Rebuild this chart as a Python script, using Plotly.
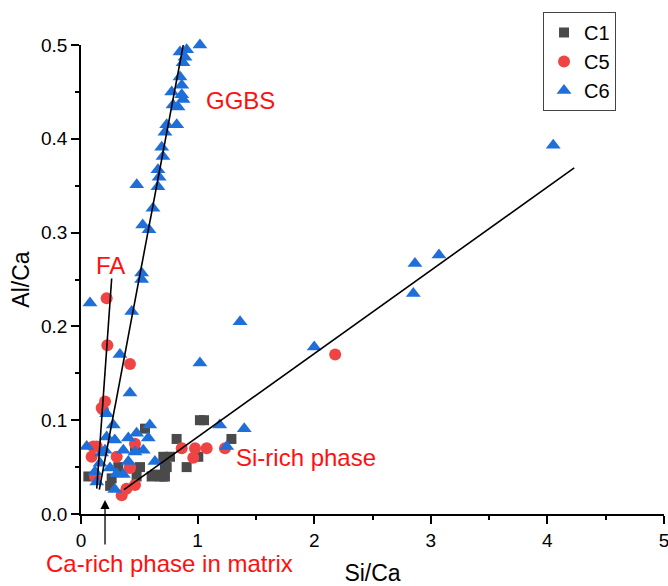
import plotly.graph_objects as go

# ---- data ----
c1_x = [0.063, 0.25, 0.263, 0.32, 0.463, 0.477, 0.506, 0.549, 0.606, 0.635, 0.677, 0.706,
        0.706, 0.72, 0.72, 0.72, 0.735, 0.763, 0.82, 0.906, 1.006, 1.02, 1.055, 1.29]
c1_y = [0.04, 0.03, 0.038, 0.05, 0.072, 0.04, 0.05, 0.091, 0.04, 0.042, 0.04, 0.04,
        0.061, 0.058, 0.05, 0.04, 0.05, 0.061, 0.08, 0.05, 0.061, 0.10, 0.10, 0.08]

c5_x = [0.091, 0.105, 0.135, 0.12, 0.177, 0.19, 0.206, 0.226, 0.22, 0.306, 0.349, 0.39,
        0.42, 0.42, 0.42, 0.463, 0.463, 0.864, 0.978, 1.078, 0.963, 1.235, 2.18]
c5_y = [0.061, 0.072, 0.072, 0.04, 0.113, 0.111, 0.12, 0.18, 0.23, 0.061, 0.02, 0.027,
        0.049, 0.05, 0.16, 0.031, 0.075, 0.07, 0.07, 0.07, 0.06, 0.07, 0.17]

c6_x = [1.02, 0.849, 0.906, 0.892, 0.875, 0.849, 0.864, 0.778, 0.864, 0.875, 0.789, 0.832,
        0.735, 0.821, 0.72, 0.692, 0.703, 0.66, 0.67, 0.66, 0.478, 0.617, 0.529, 0.583,
        0.52, 0.52, 0.077, 0.435, 0.334, 0.42,
        2.864, 3.07, 2.85, 1.364, 1.02, 2.0, 1.19, 1.40, 1.25, 4.05,
        0.049, 0.22, 0.277, 0.22, 0.29, 0.406, 0.477, 0.59, 0.577, 0.363, 0.463, 0.534,
        0.406, 0.634, 0.206, 0.163, 0.249, 0.135, 0.306, 0.363, 0.29, 0.177, 0.12]
c6_y = [0.50, 0.4925, 0.495, 0.487, 0.481, 0.466, 0.457, 0.450, 0.447, 0.442, 0.436, 0.434,
        0.415, 0.415, 0.407, 0.391, 0.381, 0.367, 0.359, 0.349, 0.351, 0.326, 0.308, 0.303,
        0.257, 0.25, 0.225, 0.216, 0.17, 0.129,
        0.267, 0.276, 0.235, 0.205, 0.161, 0.178, 0.095, 0.091, 0.072, 0.393,
        0.072, 0.107, 0.095, 0.082, 0.079, 0.081, 0.086, 0.095, 0.081, 0.068, 0.066, 0.068,
        0.056, 0.056, 0.068, 0.054, 0.049, 0.034, 0.043, 0.042, 0.026, 0.065, 0.045]

# trend lines (endpoints)
fa_x = [0.135, 0.263]
fa_y = [0.027, 0.251]
ggbs_x = [0.157, 0.877]
ggbs_y = [0.026, 0.50]
si_x = [0.369, 4.23]
si_y = [0.026, 0.369]

x_ticks = [0, 1, 2, 3, 4, 5]
y_ticks = [0.0, 0.1, 0.2, 0.3, 0.4, 0.5]

FONT = "Arial, Liberation Sans, sans-serif"
RED = "#ff1010"

fig = go.Figure()
fig.add_trace(go.Scatter(x=c1_x, y=c1_y, mode="markers", name="C1",
                         marker=dict(symbol="square", size=10, color="#4a4a4a"),
                         cliponaxis=False))
fig.add_trace(go.Scatter(x=c5_x, y=c5_y, mode="markers", name="C5",
                         marker=dict(symbol="circle", size=12, color="#f04444"),
                         cliponaxis=False))
fig.add_trace(go.Scatter(x=c6_x, y=c6_y, mode="markers", name="C6",
                         marker=dict(symbol="triangle-up", size=13, color="#1f6fdb"),
                         cliponaxis=False))
for lx, ly in [(fa_x, fa_y), (ggbs_x, ggbs_y), (si_x, si_y)]:
    fig.add_trace(go.Scatter(x=lx, y=ly, mode="lines", showlegend=False,
                             line=dict(color="black", width=1.6), cliponaxis=False,
                             hoverinfo="skip"))

annos = [
    dict(text="GGBS", x=1.37, y=0.441),
    dict(text="FA", x=0.25, y=0.265),
    dict(text="Si-rich phase", x=1.93, y=0.06),
]
for a in annos:
    fig.add_annotation(x=a["x"], y=a["y"], xref="x", yref="y", text=a["text"],
                       showarrow=False, font=dict(family=FONT, size=24, color=RED))
fig.add_annotation(x=0.755, y=-0.1045, xref="x", yref="paper", yanchor="middle",
                   text="Ca-rich phase in matrix", showarrow=False,
                   font=dict(family=FONT, size=24, color=RED))

fig.add_annotation(x=0.206, y=0.015, xref="x", yref="y", text="", showarrow=True,
                   ax=0, ay=46, axref="pixel", ayref="pixel",
                   arrowhead=2, arrowsize=1.4, arrowwidth=1.3, arrowcolor="black")

axis_common = dict(showline=True, linecolor="black", linewidth=1.6, ticks="outside",
                   ticklen=8, tickwidth=1.6, tickcolor="black", showgrid=False,
                   zeroline=False, mirror=False, ticklabeloverflow="allow",
                   tickfont=dict(family=FONT, size=19, color="black"))

fig.update_xaxes(range=[0, 5], tickvals=x_ticks, ticktext=[str(v) for v in x_ticks],
                 minor=dict(ticks="outside", ticklen=4, tickwidth=1.6, tickcolor="black",
                            dtick=0.5, showgrid=False),
                 title=dict(text="Si/Ca", font=dict(family=FONT, size=23, color="black"),
                            standoff=19),
                 **axis_common)
fig.update_yaxes(range=[0, 0.5], tickvals=y_ticks, ticktext=[f"{v:.1f}" for v in y_ticks],
                 minor=dict(ticks="outside", ticklen=4, tickwidth=1.6, tickcolor="black",
                            dtick=0.05, showgrid=False),
                 title=dict(text="Al/Ca", font=dict(family=FONT, size=23, color="black"),
                            standoff=5),
                 **axis_common)

fig.update_layout(
    width=668, height=586,
    margin=dict(l=81, r=4, t=45, b=72, autoexpand=False),
    paper_bgcolor="white", plot_bgcolor="white",
    font=dict(family=FONT, color="black"),
    legend=dict(x=0.7925, y=1.0704, xanchor="left", yanchor="top",
                bordercolor="#444444", borderwidth=1, bgcolor="white",
                font=dict(family=FONT, size=20, color="black"),
                itemsizing="trace", tracegroupgap=0),
)

fig.write_html("out.html")
